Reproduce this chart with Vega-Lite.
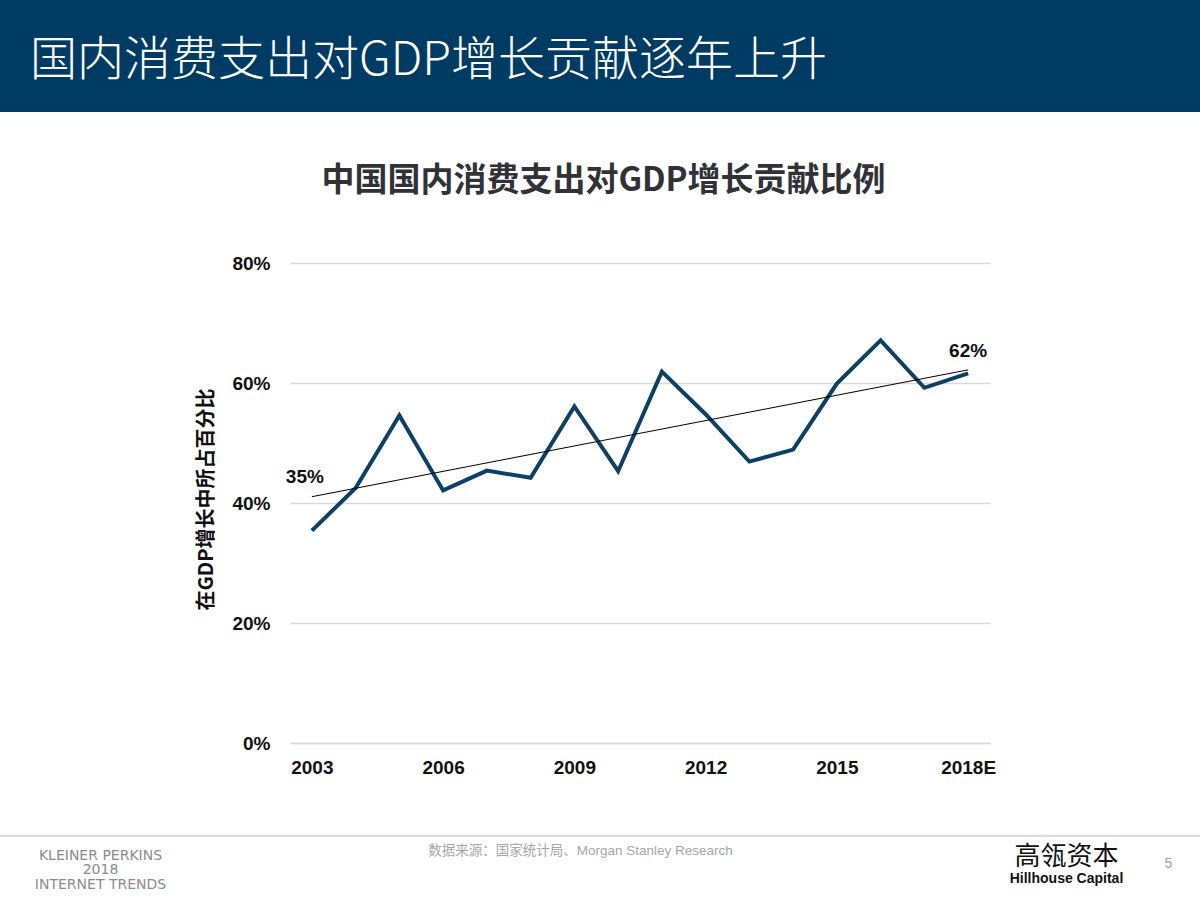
{
  "$schema": "https://vega.github.io/schema/vega-lite/v6.json",
  "width": 1200,
  "height": 900,
  "autosize": {"type": "none"},
  "padding": 0,
  "background": "#ffffff",
  "view": {
    "stroke": null,
    "fill": {
      "gradient": "linear",
      "x1": 0, "y1": 0, "x2": 0, "y2": 1,
      "stops": [
        {"offset": 0, "color": "#003B63"},
        {"offset": 0.1244, "color": "#003B63"},
        {"offset": 0.1245, "color": "#ffffff"},
        {"offset": 0.9272, "color": "#ffffff"},
        {"offset": 0.9273, "color": "#dcdcdc"},
        {"offset": 0.9295, "color": "#dcdcdc"},
        {"offset": 0.9296, "color": "#ffffff"},
        {"offset": 1, "color": "#ffffff"}
      ]
    }
  },
  "title": {
    "text": "国内消费支出对GDP增长贡献逐年上升",
    "anchor": "start",
    "frame": "group",
    "dx": 30,
    "offset": -85,
    "color": "#ffffff",
    "font": "Noto Sans CJK SC",
    "fontSize": 47,
    "fontWeight": 300
  },
  "data": {
    "values": [
      {"year": 2003, "share": 0.354},
      {"year": 2004, "share": 0.425},
      {"year": 2005, "share": 0.546},
      {"year": 2006, "share": 0.421},
      {"year": 2007, "share": 0.454},
      {"year": 2008, "share": 0.442},
      {"year": 2009, "share": 0.561},
      {"year": 2010, "share": 0.453},
      {"year": 2011, "share": 0.619},
      {"year": 2012, "share": 0.548},
      {"year": 2013, "share": 0.469},
      {"year": 2014, "share": 0.489},
      {"year": 2015, "share": 0.599},
      {"year": 2016, "share": 0.671},
      {"year": 2017, "share": 0.592},
      {"year": 2018, "share": 0.616}
    ]
  },
  "layer": [
    {
      "mark": {"type": "line", "color": "#0C4064", "strokeWidth": 4, "strokeJoin": "miter", "strokeCap": "butt"},
      "encoding": {
        "x": {
          "field": "year", "type": "quantitative",
          "scale": {"domain": [2002.5, 2018.5], "range": [290, 990], "nice": false, "zero": false},
          "axis": {
            "orient": "bottom", "offset": -157,
            "values": [2003, 2006, 2009, 2012, 2015, 2018],
            "format": "d",
            "labelExpr": "datum.value == 2018 ? '2018E' : datum.label",
            "grid": false, "ticks": false, "tickSize": 0,
            "domain": true, "domainColor": "#d9d9d9", "domainWidth": 1.5,
            "labelFont": "Liberation Sans", "labelFontSize": 19, "labelFontWeight": "bold", "labelColor": "#111111",
            "labelPadding": 15, "labelFlush": false, "labelOverlap": false,
            "title": "数据来源：国家统计局、Morgan Stanley Research",
            "titleX": 580, "titleY": 107, "titleAngle": 0,
            "titleAlign": "center", "titleBaseline": "middle",
            "titleFont": "Liberation Sans, Noto Sans CJK SC", "titleFontSize": 13.5, "titleFontWeight": "normal", "titleColor": "#a6a6a6"
          }
        },
        "y": {
          "field": "share", "type": "quantitative",
          "scale": {"domain": [0, 0.8], "range": [743, 263], "nice": false, "zero": false},
          "axis": {
            "orient": "left", "offset": -290,
            "values": [0, 0.2, 0.4, 0.6, 0.8],
            "format": ".0%",
            "grid": true, "gridColor": "#d9d9d9", "gridWidth": 1.5,
            "domain": false, "ticks": false, "tickSize": 0,
            "labelFont": "Liberation Sans", "labelFontSize": 19, "labelFontWeight": "bold", "labelColor": "#111111",
            "labelPadding": 20, "labelFlush": false, "labelOverlap": false,
            "title": "在GDP增长中所占百分比",
            "titleX": -84, "titleY": 499, "titleAngle": -90,
            "titleAlign": "center", "titleBaseline": "middle",
            "titleFont": "Noto Sans CJK SC", "titleFontSize": 20, "titleFontWeight": "bold", "titleColor": "#111111"
          }
        }
      }
    },
    {
      "transform": [{"regression": "share", "on": "year"}],
      "mark": {"type": "line", "color": "#000000", "strokeWidth": 1},
      "encoding": {
        "x": {
          "field": "year", "type": "quantitative",
          "scale": {"domain": [2002.5, 2018.5], "range": [290, 990], "nice": false, "zero": false},
          "axis": {
            "orient": "top", "offset": 0,
            "labels": false, "ticks": false, "domain": false, "grid": false,
            "title": "中国国内消费支出对GDP增长贡献比例",
            "titleX": 603, "titleY": 180, "titleAngle": 0,
            "titleAlign": "center", "titleBaseline": "middle",
            "titleFont": "Noto Sans CJK SC", "titleFontSize": 33, "titleFontWeight": "bold", "titleColor": "#303236"
          }
        },
        "y": {
          "field": "share", "type": "quantitative",
          "scale": {"domain": [0, 0.8], "range": [743, 263], "nice": false, "zero": false},
          "axis": {
            "orient": "right", "offset": 0,
            "labels": false, "ticks": false, "domain": false, "grid": false,
            "title": "5",
            "titleX": -32, "titleY": 863, "titleAngle": 0,
            "titleAlign": "center", "titleBaseline": "middle",
            "titleFont": "Liberation Sans", "titleFontSize": 14, "titleFontWeight": "normal", "titleColor": "#a0a0a0"
          }
        }
      }
    },
    {
      "transform": [{"filter": "datum.year == 2003"}],
      "mark": {"type": "text", "dx": -7, "dy": -54, "font": "Liberation Sans", "fontSize": 19, "fontWeight": "bold", "color": "#111111", "align": "center", "baseline": "middle"},
      "encoding": {
        "x": {
          "field": "year", "type": "quantitative",
          "scale": {"domain": [2002.5, 2018.5], "range": [290, 990], "nice": false, "zero": false},
          "axis": {
            "orient": "bottom", "offset": 0,
            "labels": false, "ticks": false, "domain": false, "grid": false,
            "title": ["KLEINER PERKINS", "2018", "INTERNET TRENDS"],
            "titleX": 100, "titleY": -45, "titleAngle": 0,
            "titleAlign": "center", "titleBaseline": "middle", "titleLineHeight": 14.5,
            "titleFont": "DejaVu Sans", "titleFontSize": 14, "titleFontWeight": "normal", "titleColor": "#8c8c8c"
          }
        },
        "y": {
          "field": "share", "type": "quantitative",
          "scale": {"domain": [0, 0.8], "range": [743, 263], "nice": false, "zero": false},
          "axis": {
            "orient": "left", "offset": 0,
            "labels": false, "ticks": false, "domain": false, "grid": false,
            "title": "高瓴资本",
            "titleX": 1066, "titleY": 856, "titleAngle": 0,
            "titleAlign": "center", "titleBaseline": "middle",
            "titleFont": "Noto Sans CJK SC", "titleFontSize": 26, "titleFontWeight": "normal", "titleColor": "#111111"
          }
        },
        "text": {"field": "share", "type": "quantitative", "format": ".0%"}
      }
    },
    {
      "transform": [{"filter": "datum.year == 2018"}],
      "mark": {"type": "text", "dx": 0, "dy": -22, "font": "Liberation Sans", "fontSize": 19, "fontWeight": "bold", "color": "#111111", "align": "center", "baseline": "middle"},
      "encoding": {
        "x": {
          "field": "year", "type": "quantitative",
          "scale": {"domain": [2002.5, 2018.5], "range": [290, 990], "nice": false, "zero": false},
          "axis": {
            "orient": "top", "offset": 0,
            "labels": false, "ticks": false, "domain": false, "grid": false,
            "title": "Hillhouse Capital",
            "titleX": 1066, "titleY": 878, "titleAngle": 0,
            "titleAlign": "center", "titleBaseline": "middle",
            "titleFont": "Liberation Sans", "titleFontSize": 14, "titleFontWeight": "bold", "titleColor": "#111111"
          }
        },
        "y": {
          "field": "share", "type": "quantitative",
          "scale": {"domain": [0, 0.8], "range": [743, 263], "nice": false, "zero": false},
          "axis": null
        },
        "text": {"field": "share", "type": "quantitative", "format": ".0%"}
      }
    }
  ],
  "resolve": {"axis": {"x": "independent", "y": "independent"}}
}
